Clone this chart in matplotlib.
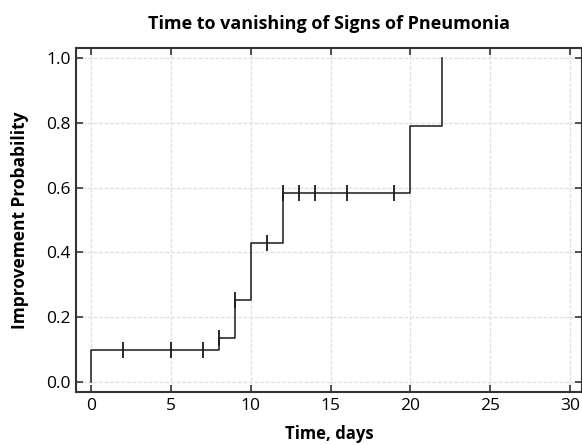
import matplotlib.pyplot as plt
import numpy as np

plt.rcParams['font.family'] = ['Open Sans', 'DejaVu Sans']

# step curve: event times and cumulative improvement probability
step_times = [0, 0, 8, 9, 10, 12, 20, 22]
step_probs = [0.0, 0.098, 0.135, 0.252, 0.428, 0.584, 0.791, 1.0]

# censored observations
censor_times = [2, 5, 7, 8, 9, 11, 12, 13, 14, 16, 19]
censor_probs = [0.098, 0.098, 0.098, 0.135, 0.252, 0.428, 0.584, 0.584, 0.584, 0.584, 0.584]

x_ticks = [0, 5, 10, 15, 20, 25, 30]
y_ticks = [0.0, 0.2, 0.4, 0.6, 0.8, 1.0]

fig = plt.figure(figsize=(5.82, 4.45), dpi=100)
ax = fig.add_axes([76 / 582, (445 - 392) / 445, (582 - 76) / 582, (392 - 48) / 445])

ax.step(step_times, step_probs, where='post', color='#1a1a1a', lw=1.1)
ax.plot(censor_times, censor_probs, ls='none', marker='|', ms=12, mew=1.3, color='#1a1a1a')

ax.set_xlim(-0.95, 30.75)
ax.set_ylim(-0.031, 1.031)
ax.set_xticks(x_ticks)
ax.set_yticks(y_ticks)
ax.set_yticklabels(['%.1f' % v for v in y_ticks])
ax.grid(True, color='#e2e2e2', lw=1.0, ls=(0, (3, 1)))
ax.set_axisbelow(True)

ax.tick_params(direction='in', length=5, width=1.2, color='#333333',
               top=True, right=True, labelsize=12.5, pad=4)
for sp in ax.spines.values():
    sp.set_color('#333333')
    sp.set_linewidth(1.5)

ax.set_title('Time to vanishing of Signs of Pneumonia', fontsize=13, fontweight='bold', pad=14)
ax.set_xlabel('Time, days', fontsize=12, fontweight='bold', labelpad=8)
ax.set_ylabel('Improvement Probability', fontsize=12.5, fontweight='bold', labelpad=12)

fig.savefig('out.png', dpi=100)
